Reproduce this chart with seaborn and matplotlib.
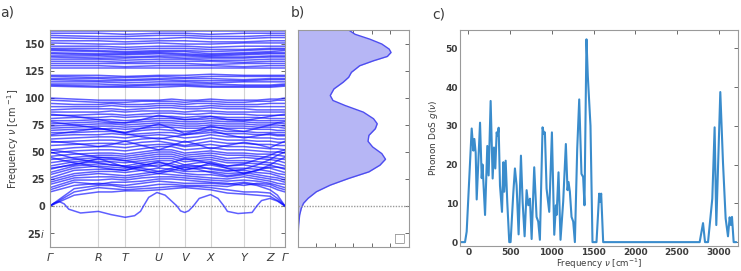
import matplotlib
matplotlib.use("Agg")
import matplotlib.pyplot as plt
import seaborn as sns
import pandas as pd
import numpy as np

# ---------------- data ----------------
k_labels = ["Γ", "R", "T", "U", "V", "X", "Y", "Z", "Γ"]
k_sym = [0, 0.206, 0.320, 0.462, 0.573, 0.683, 0.825, 0.936, 1.0]
k_fine = [0, 0.103, 0.206, 0.263, 0.320, 0.391, 0.462, 0.518, 0.573,
          0.628, 0.683, 0.754, 0.825, 0.881, 0.936, 0.968, 1.0]

# flat optical bands, values at the high-symmetry points
upper_bands = [
    [162, 162, 162, 162, 162, 162, 162, 162, 162],
    [160, 160, 159, 160, 160, 159, 160, 160, 160],
    [158, 157, 157, 158, 158, 157, 157, 158, 158],
    [156, 155, 155, 155, 156, 155, 155, 156, 156],
    [153, 153, 152, 153, 153, 152, 152, 153, 153],
    [151, 150, 150, 151, 150, 150, 151, 151, 151],
    [148, 148, 147, 148, 148, 147, 148, 148, 148],
    [146, 146, 145, 146, 146, 145, 145, 146, 146],
    [145, 144, 143, 144, 144, 143, 144, 145, 145],
    [144, 143, 142, 143, 143, 141, 142, 143, 144],
    [142, 141, 141, 142, 141, 140, 141, 142, 142],
    [141, 140, 140, 141, 140, 139, 140, 141, 141],
    [139, 139, 138, 139, 139, 138, 138, 139, 139],
    [138, 137, 137, 138, 137, 137, 137, 138, 138],
    [136, 136, 135, 136, 136, 135, 135, 136, 136],
    [134, 134, 133, 134, 134, 134, 133, 134, 134],
    [132, 132, 132, 132, 132, 131, 132, 132, 132],
    [130, 130, 129, 130, 130, 130, 129, 130, 130],
    [128, 128, 128, 128, 128, 128, 128, 128, 128],
    [121, 121, 120, 121, 121, 122, 121, 121, 121],
    [120, 119, 119, 120, 119, 120, 120, 120, 120],
    [118, 118, 117, 118, 118, 118, 117, 118, 118],
    [117, 116, 116, 117, 116, 116, 116, 117, 117],
    [115, 115, 114, 115, 115, 114, 115, 115, 115],
    [113, 113, 112, 113, 113, 113, 112, 112, 113],
    [112, 111, 111, 112, 112, 111, 111, 111, 112],
    [111, 110, 110, 110, 111, 110, 110, 110, 111],
]

# dispersive bands below 100 cm-1, values on k_fine
lower_bands = [
    [0, 10, 13, 13, 14, 14, 15, 16, 17, 16, 15, 12, 11, 10, 9, 5, 0],
    [0, 13, 17, 16, 15, 16, 17, 18, 18, 18, 17, 15, 13, 13, 12, 7, 0],
    [0, 16, 19, 19, 17, 18, 20, 20, 19, 19, 19, 18, 21, 19, 15, 10, 0],
    [13, 19, 21, 20, 19, 21, 23, 22, 21, 21, 21, 20, 22, 20, 18, 15, 13],
    [15, 22, 20, 22, 22, 23, 25, 25, 24, 23, 22, 21, 19, 21, 20, 17, 15],
    [17, 24, 24, 25, 24, 26, 27, 27, 26, 25, 24, 23, 24, 23, 21, 19, 17],
    [20, 26, 27, 27, 26, 28, 30, 29, 28, 27, 26, 25, 27, 25, 23, 21, 20],
    [22, 28, 30, 29, 28, 30, 32, 32, 30, 29, 29, 27, 29, 27, 25, 24, 22],
    [24, 30, 32, 32, 31, 33, 35, 34, 32, 32, 32, 30, 31, 29, 27, 26, 24],
    [26, 33, 34, 34, 33, 36, 38, 37, 34, 35, 35, 33, 33, 31, 30, 28, 26],
    [29, 35, 37, 36, 35, 38, 40, 39, 36, 37, 38, 35, 35, 34, 32, 30, 29],
    [31, 37, 39, 38, 37, 40, 42, 42, 38, 40, 41, 37, 38, 36, 35, 33, 31],
    [34, 39, 41, 41, 40, 42, 44, 44, 41, 42, 43, 40, 40, 39, 38, 36, 34],
    [37, 41, 43, 43, 42, 44, 46, 46, 43, 44, 45, 42, 42, 41, 40, 39, 37],
    [40, 43, 45, 45, 44, 46, 48, 48, 45, 46, 47, 44, 45, 44, 43, 42, 40],
    [43, 45, 47, 47, 46, 48, 50, 50, 47, 48, 49, 47, 47, 46, 45, 44, 43],
    [46, 48, 49, 49, 48, 50, 52, 52, 49, 50, 51, 49, 49, 48, 48, 47, 46],
    [45, 40, 36, 34, 33, 37, 41, 37, 33, 36, 40, 35, 30, 33, 38, 42, 45],
    [50, 44, 40, 38, 37, 35, 32, 35, 38, 37, 34, 32, 34, 38, 43, 47, 50],
    [35, 38, 44, 40, 36, 33, 30, 33, 36, 34, 31, 28, 30, 33, 36, 36, 35],
    [52, 49, 45, 44, 42, 39, 36, 40, 44, 42, 39, 37, 39, 43, 47, 50, 52],
    [49, 51, 52, 52, 51, 53, 55, 55, 52, 53, 54, 52, 52, 51, 50, 50, 49],
    [52, 54, 55, 55, 54, 56, 57, 57, 55, 56, 57, 55, 55, 54, 53, 53, 52],
    [56, 57, 58, 58, 57, 59, 60, 58, 56, 58, 60, 58, 58, 57, 57, 56, 56],
    [59, 60, 61, 61, 60, 62, 63, 61, 59, 61, 63, 61, 61, 60, 60, 59, 59],
    [62, 63, 64, 64, 63, 65, 66, 65, 63, 64, 66, 64, 64, 63, 63, 62, 62],
    [65, 66, 66, 67, 66, 67, 68, 68, 66, 67, 68, 67, 67, 66, 66, 65, 65],
    [68, 68, 69, 69, 68, 70, 71, 70, 69, 70, 71, 69, 69, 68, 68, 68, 68],
    [70, 71, 71, 72, 71, 72, 73, 73, 72, 72, 73, 72, 72, 71, 71, 70, 70],
    [72, 73, 74, 74, 73, 74, 75, 75, 74, 74, 75, 74, 74, 73, 73, 73, 72],
    [74, 75, 76, 76, 75, 76, 77, 77, 76, 76, 77, 76, 76, 75, 75, 75, 74],
    [76, 77, 78, 77, 77, 78, 79, 79, 78, 78, 79, 78, 78, 77, 77, 77, 76],
    [79, 79, 80, 80, 79, 80, 81, 81, 80, 80, 81, 80, 80, 79, 79, 79, 79],
    [81, 82, 82, 83, 82, 83, 83, 83, 82, 83, 83, 82, 82, 82, 81, 81, 81],
    [84, 84, 85, 85, 84, 85, 86, 86, 85, 85, 86, 85, 85, 84, 84, 84, 84],
    [87, 87, 87, 88, 87, 88, 88, 88, 87, 88, 88, 87, 87, 87, 87, 87, 87],
    [89, 90, 90, 90, 89, 90, 91, 91, 90, 90, 91, 90, 90, 89, 89, 89, 89],
    [92, 92, 92, 93, 92, 92, 93, 93, 92, 92, 93, 92, 92, 92, 92, 92, 92],
    [95, 94, 94, 95, 94, 94, 95, 95, 94, 95, 95, 94, 94, 94, 95, 95, 95],
    [98, 97, 96, 96, 96, 97, 97, 97, 96, 97, 97, 96, 96, 97, 97, 98, 98],
    [100, 99, 98, 98, 98, 98, 98, 99, 98, 98, 99, 98, 98, 98, 99, 99, 100],
    [60, 58, 55, 57, 60, 56, 52, 56, 60, 57, 53, 56, 59, 57, 54, 57, 60],
    [78, 75, 72, 70, 68, 72, 76, 72, 67, 70, 74, 71, 69, 72, 75, 77, 78],
    [66, 69, 72, 70, 67, 64, 62, 64, 66, 68, 70, 66, 63, 65, 67, 66, 66],
    [85, 83, 80, 78, 77, 80, 84, 82, 80, 81, 83, 80, 79, 81, 83, 84, 85],
]

# soft (imaginary) mode
soft_k = [0, 0.02, 0.04, 0.06, 0.08, 0.13, 0.206, 0.26, 0.32, 0.36, 0.385,
          0.398, 0.42, 0.455, 0.49, 0.515, 0.54, 0.555, 0.573, 0.59, 0.61,
          0.635, 0.683, 0.715, 0.74, 0.755, 0.8, 0.86, 0.88, 0.9, 0.936,
          0.968, 1.0]
soft_v = [0, 3, 4, 2, -3, -6.5, -5, -8, -10.5, -9, -5, 0, 8, 12.5, 10, 5, 0,
          -4.5, -6, -4.5, 0, 7, 10.5, 7, 0, -5, -7, -6, 0, 5, 7, 4.5, 0]

# panel b: total DOS (frequency vs. density)
dosb_freq = [-37, -26.7, -17.5, -8.3, -2.1, 2.5, 7.1, 13.2, 19.3, 25.5, 31.6,
             37.8, 43.3, 48.5, 54.7, 59.9, 65.4, 71.6, 76.2, 80.8, 86.9,
             93.1, 97.7, 102.3, 108.4, 114.6, 119.2, 123.8, 129.9, 134.5,
             138.5, 142.2, 145.3, 150, 154.5, 159, 163]
dosb_val = [0.0, 0.002, 0.007, 0.018, 0.036, 0.06, 0.11, 0.20, 0.35, 0.55,
            0.77, 0.89, 0.95, 0.91, 0.81, 0.76, 0.77, 0.84, 0.86, 0.82, 0.71,
            0.51, 0.38, 0.35, 0.39, 0.49, 0.55, 0.58, 0.67, 0.82, 0.97, 1.01,
            0.99, 0.91, 0.78, 0.62, 0.55]

# panel c: phonon DoS over full range
c_freq = [-100, -40, -20, 40, 60, 72, 88, 100, 140, 160, 170, 200, 227, 243,
          267, 291, 307, 323, 339, 351, 363, 379, 403, 419, 430, 447, 466,
          490, 506, 538, 558, 578, 602, 630, 650, 674, 698, 718, 738, 758,
          789, 817, 837, 857, 889, 905, 917, 937, 969, 1001, 1029, 1049,
          1057, 1080, 1104, 1136, 1168, 1188, 1200, 1216, 1236, 1256, 1276,
          1304, 1328, 1355, 1375, 1391, 1415, 1431, 1463, 1487, 1535, 1567,
          1579, 1591, 1615, 2771, 2811, 2835, 2871, 2922, 2950, 2970, 3018,
          3050, 3082, 3110, 3130, 3146, 3158, 3178, 3210]
c_dos = [0, 0, 2.7, 29.3, 23.6, 26.6, 23, 11, 30.8, 16.5, 20, 7, 24.8, 17.2,
         36.4, 16.4, 24.4, 19, 28.3, 27.4, 29.5, 14.6, 7.8, 20.6, 13, 21,
         10.4, 0, 0, 12.5, 19, 14.6, 2, 22.3, 10.4, 1.5, 13.4, 9.5, 11.2, 0.8,
         19.3, 6.5, 5.3, 0.6, 29.6, 27.9, 28.3, 13.8, 7.8, 28.3, 1.9, 9.5, 7,
         18, 0.6, 10.4, 25.3, 13.4, 15.5, 13, 6.5, 5.3, 0, 24, 36.8, 17.6,
         16.8, 9.5, 52.3, 42.8, 30, 0, 0, 12.5, 10.4, 12.5, 0, 0, 4.9, 0, 0,
         11.2, 29.6, 4.4, 38.7, 20.6, 6.1, 1.5, 6.4, 4.4, 6.5, 0, 0]

a_yticks = [-25, 0, 25, 50, 75, 100, 125, 150]
a_yticklabels = ["25$i$", "0", "25", "50", "75", "100", "125", "150"]

# ---------------- style ----------------
sns.set_style("white")
plt.rcParams["font.family"] = ["DejaVu Sans"]
plt.rcParams["axes.edgecolor"] = "#9a9a9a"
plt.rcParams["axes.linewidth"] = 0.8
plt.rcParams["xtick.direction"] = "in"
plt.rcParams["ytick.direction"] = "in"
plt.rcParams["xtick.color"] = "#6a6a6a"
plt.rcParams["ytick.color"] = "#6a6a6a"
plt.rcParams["xtick.major.size"] = 3
plt.rcParams["ytick.major.size"] = 3
plt.rcParams["xtick.major.width"] = 0.7
plt.rcParams["ytick.major.width"] = 0.7

TXT = "#3c3c3c"
W, H = 741, 271
fig = plt.figure(figsize=(W / 100, H / 100), dpi=100)


def rect(l, t, r, b):
    return [l / W, 1 - b / H, (r - l) / W, (b - t) / H]


ax_a = fig.add_axes(rect(50, 30, 285, 247))
ax_b = fig.add_axes(rect(298, 30, 409, 247))
ax_c = fig.add_axes(rect(460, 30, 738, 246))

# ---------------- panel a ----------------
rows = []
bid = 0
for b in upper_bands:
    for k, v in zip(k_sym, b):
        rows.append((bid, k, v))
    bid += 1
for b in lower_bands:
    for k, v in zip(k_fine, b):
        rows.append((bid, k, v))
    bid += 1
for k, v in zip(soft_k, soft_v):
    rows.append((bid, k, v))
bands_df = pd.DataFrame(rows, columns=["band", "k", "freq"])

for k in k_sym:
    ax_a.axvline(k, color="#d4d4d4", lw=0.8, zorder=0)
ax_a.axhline(0, color="#9a9a9a", lw=1.0, ls=(0, (1, 1)), zorder=1)
sns.lineplot(data=bands_df, x="k", y="freq", units="band", estimator=None,
             color="#0a0aff", alpha=0.65, lw=1.1, sort=False, ax=ax_a,
             legend=False)
ax_a.set_xlim(0, 1)
ax_a.set_ylim(-38, 163)
ax_a.set_xticks(k_sym)
ax_a.set_xticklabels(k_labels, fontstyle="italic", fontsize=8, color=TXT)
ax_a.set_yticks(a_yticks)
ax_a.set_yticklabels(a_yticklabels, fontsize=7, color=TXT, fontweight="bold")
ax_a.tick_params(axis="x", length=3, top=True, bottom=False, pad=4)
ax_a.tick_params(axis="y", right=True, left=True)
ax_a.set_xlabel("")
ax_a.set_ylabel("Frequency $\\nu$ [cm $^{-1}$]", fontsize=7, color=TXT,
                labelpad=3)

# ---------------- panel b ----------------
ax_b.fill_betweenx(dosb_freq, 0, dosb_val, color="#b6b6f5", lw=0)
sns.lineplot(x=dosb_val, y=dosb_freq, orient="y", sort=False,
             color="#4d4df0", lw=1.0, ax=ax_b)
ax_b.axhline(0, color="#9a9a9a", lw=1.0, ls=(0, (1, 1)), zorder=3)
ax_b.set_xlim(0, 1.205)
ax_b.set_ylim(-38, 163)
ax_b.set_xticks([0.2, 0.4, 0.6, 0.8, 1.0])
ax_b.set_yticks(a_yticks)
ax_b.tick_params(axis="x", top=True, bottom=True, labelbottom=False,
                 labeltop=False)
ax_b.tick_params(axis="y", left=False, right=True, labelleft=False)
ax_b.set_xlabel("")
ax_b.set_ylabel("")
ax_b.text(0.915, 0.045, "□", transform=ax_b.transAxes, fontsize=9,
          color="#8a8a8a", ha="center", va="center")

# ---------------- panel c ----------------
sns.lineplot(x=c_freq, y=c_dos, sort=False, color="#3a8ccc", lw=1.5,
             ax=ax_c)
ax_c.set_xlim(-100, 3230)
ax_c.set_ylim(-1, 54.7)
ax_c.set_xticks([0, 500, 1000, 1500, 2000, 2500, 3000])
ax_c.set_yticks([0, 10, 20, 30, 40, 50])
ax_c.tick_params(axis="both", labelsize=6.5, labelcolor=TXT, top=True,
                 right=True, pad=1.5)
for lab in ax_c.get_xticklabels() + ax_c.get_yticklabels():
    lab.set_fontweight("bold")
ax_c.set_xlabel("Frequency $\\nu$ [cm$^{-1}$]", fontsize=6.2, color=TXT,
                va="center")
ax_c.xaxis.set_label_coords(0.5, -0.082)
ax_c.set_ylabel("Phonon DoS $g(\\nu)$", fontsize=6.5, color=TXT, labelpad=4)

# ---------------- panel letters ----------------
fig.text(0.0, 0.955, "a)", fontsize=10, color=TXT, va="center")
fig.text(291 / W, 0.955, "b)", fontsize=10, color=TXT, va="center")
fig.text(432 / W, 0.948, "c)", fontsize=10, color=TXT, va="center")

fig.savefig("out.png", dpi=100)
